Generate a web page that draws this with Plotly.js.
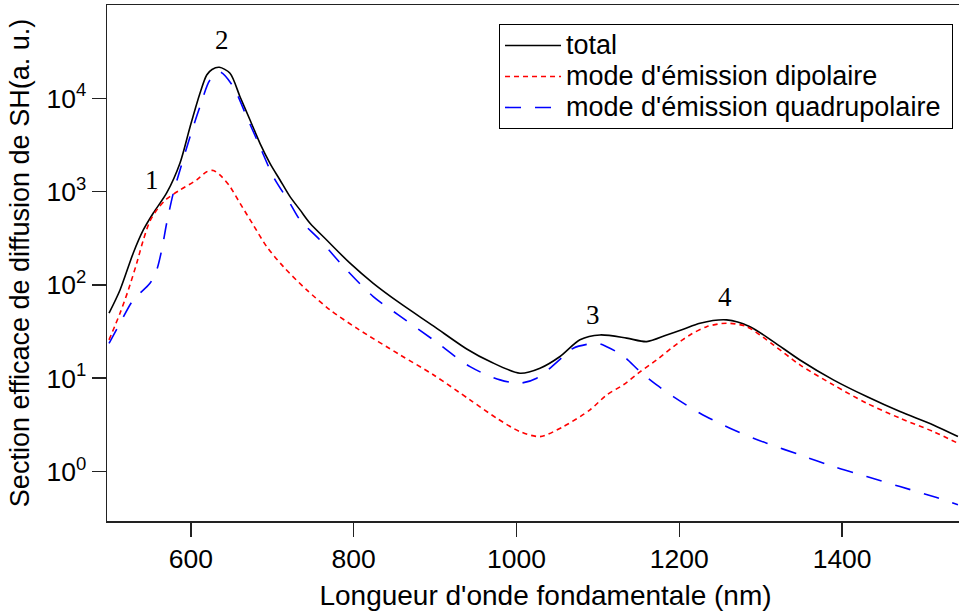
<!DOCTYPE html>
<html>
<head>
<meta charset="utf-8">
<script src="https://cdn.plot.ly/plotly-3.0.1.min.js"></script>
<style>html,body{margin:0;padding:0;background:#fff;overflow:hidden;}#chart{width:985px;height:611px;}</style>
</head>
<body>
<div id="chart"></div>
<script>
// Wavelength (nm) and SH scattering cross-section (a. u.)
const xTotal = [499.5, 513, 529.3, 541.6, 553.9, 570.3, 586.7, 599, 611.2, 619.5, 626, 635, 648.1, 660.4, 672.7, 684.9, 697.2, 709.5, 721.8, 734.1, 746.4, 766.8, 795.5, 824.1, 856.9, 897.8, 938.9, 967.5, 1004.3, 1028.9, 1053.5, 1078, 1102.6, 1135.4, 1160, 1184.5, 1204.9, 1225.4, 1258.2, 1286.9, 1315.5, 1348.2, 1389.2, 1430.2, 1471.1, 1512, 1542.3];
const yTotal = [49.8, 88.3, 220, 388, 590, 968, 2030, 4930, 11320, 17780, 20370, 21480, 18530, 10400, 5860, 3296, 2013, 1333, 883, 637, 458, 303, 171, 104, 63.7, 36.4, 20.6, 15.1, 11.3, 12.8, 17.1, 25.8, 29.1, 26.9, 24.7, 29.1, 33.5, 38.9, 42.2, 35.7, 24.7, 15.7, 9.6, 6.36, 4.39, 3.16, 2.37];

const xDip = [499.5, 513, 523.2, 533.5, 541.6, 549.8, 560, 570.3, 586.7, 607.2, 619.5, 627.6, 637.9, 648.1, 660.4, 676.7, 693.2, 713.6, 742.3, 771, 803.7, 856.9, 897.8, 942.9, 975.7, 1004.3, 1028.9, 1057.5, 1090.3, 1110.8, 1131.2, 1151.7, 1172.2, 1192.6, 1213.1, 1233.6, 1258.2, 1282.8, 1315.5, 1348.2, 1389.2, 1430.2, 1471.1, 1512, 1542.3];
const yDip = [25.8, 49.8, 88.3, 171, 303, 485, 668, 834, 1042, 1334, 1636, 1686, 1446, 1130, 750, 439, 257, 157, 88.4, 54, 34.4, 17.8, 10.9, 5.87, 3.73, 2.68, 2.37, 3.03, 4.58, 6.63, 8.49, 11.7, 15.7, 21.8, 29.1, 35.7, 38.9, 35.7, 22.8, 13.9, 8.49, 5.4, 3.73, 2.68, 2.01];

const xQuad = [499.5, 513, 529.3, 549.8, 558.1, 564.2, 570.3, 578.4, 586.7, 599, 611.2, 623.5, 635.8, 652.1, 668.6, 684.9, 701.3, 721.8, 734.1, 758.6, 789.4, 824.1, 854.8, 897.8, 942.9, 979.8, 1004.3, 1024.8, 1057.5, 1069.8, 1098.5, 1110.8, 1131.2, 1151.7, 1172.2, 1192.6, 1225.4, 1266.4, 1307.4, 1348.2, 1389.2, 1430.2, 1471.1, 1512, 1542.3];
const yQuad = [23.7, 38.9, 69.1, 104, 145, 237, 458, 960, 1706, 3880, 8130, 15700, 19140, 13300, 6350, 3030, 1446, 750, 497, 303, 151, 75, 47.7, 25.8, 13.3, 9.6, 8.85, 10, 17.1, 21, 23.7, 21.8, 17.3, 11.8, 8.49, 6.36, 4.22, 2.8, 2.01, 1.51, 1.13, 0.884, 0.69, 0.54, 0.44];

const seriesNames = ["total", "mode d'émission dipolaire", "mode d'émission quadrupolaire"];
const xTickVals = [600, 800, 1000, 1200, 1400];
const yTickVals = [1, 10, 100, 1000, 10000];
const yTickText = ["10<sup>0</sup>", "10<sup>1</sup>", "10<sup>2</sup>", "10<sup>3</sup>", "10<sup>4</sup>"];
const peakLabels = ["1", "2", "3", "4"];
const peakX = [552, 638, 1094, 1256];
const peakY = [1330, 42000, 48, 74];

const sans = "Liberation Sans, Arial, sans-serif";
const serif = "Liberation Serif, Times New Roman, serif";
const big = s => '<span style="font-size:27px">' + s + '</span>';

const traces = [
  {x: xTotal, y: yTotal, name: big(seriesNames[0]), mode: "lines",
   line: {color: "#000000", width: 1.6, shape: "spline", smoothing: 0.8}},
  {x: xDip, y: yDip, name: big(seriesNames[1]), mode: "lines",
   line: {color: "#ff0000", width: 1.6, dash: "5px,4px", shape: "spline", smoothing: 0.8}},
  {x: xQuad, y: yQuad, name: big(seriesNames[2]) + "&nbsp;", mode: "lines",
   line: {color: "#0000ff", width: 1.6, dash: "16px,14px", shape: "spline", smoothing: 0.8}}
];

const axisCommon = {
  showgrid: false, zeroline: false, showline: true,
  linecolor: "#222", linewidth: 1.5,
  ticks: "outside", ticklen: 14, tickwidth: 1.5, tickcolor: "#222",
  tickfont: {family: sans, size: 26.5, color: "#000"}
};

const layout = {
  width: 985, height: 611,
  margin: {l: 107, r: 1, t: 5, b: 90},
  paper_bgcolor: "#fff", plot_bgcolor: "#fff",
  font: {family: sans, color: "#000"},
  showlegend: true,
  legend: {
    x: 0.447, y: 0.963, xanchor: "left", yanchor: "top",
    bgcolor: "#fff", bordercolor: "#000", borderwidth: 1,
    font: {family: sans, size: 21.5, color: "#000"},
    itemwidth: 56, tracegroupgap: 0
  },
  xaxis: Object.assign({}, axisCommon, {
    range: [497, 1574.3], tickvals: xTickVals,
    mirror: true,
    title: {text: "Longueur d'onde fondamentale (nm)", font: {family: sans, size: 28, color: "#000"}, standoff: 12}
  }),
  yaxis: Object.assign({}, axisCommon, {
    type: "log", range: [-0.53, 5.0], tickvals: yTickVals, ticktext: yTickText,
    title: {text: "Section efficace de diffusion de SH(a. u.)", font: {family: sans, size: 27, color: "#000"}, standoff: 9}
  }),
  annotations: peakLabels.map((t, i) => ({
    x: peakX[i], y: Math.log10(peakY[i]), xref: "x", yref: "y",
    text: t, showarrow: false, font: {family: serif, size: 27, color: "#000"}
  }))
};

Plotly.newPlot("chart", traces, layout, {displayModeBar: false, staticPlot: true});
</script>
</body>
</html>
